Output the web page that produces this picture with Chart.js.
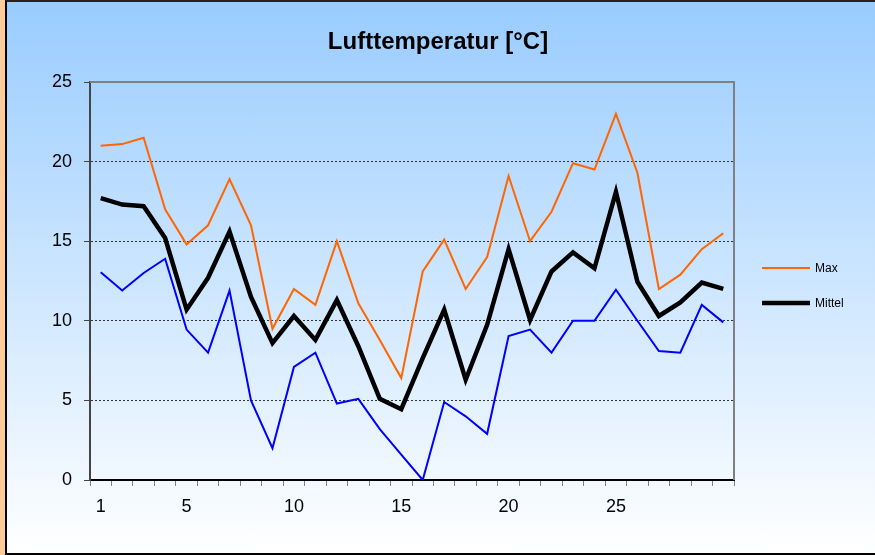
<!DOCTYPE html>
<html lang="de">
<head>
  <meta charset="UTF-8">
  <title>Lufttemperatur</title>
  <script src="https://cdn.jsdelivr.net/npm/chart.js"></script>
  <style>
    body {
      margin: 0;
      padding: 0;
      width: 875px;
      height: 555px;
      overflow: hidden;
      background-color: #FFCC99;
      position: relative;
    }
    #frame {
      position: absolute;
      left: 5px;
      top: 0;
      width: 900px;
      height: 551px;
      border: 2px solid #000;
      border-top-color: #2b2118;
      background: linear-gradient(#99CCFF, #FFFFFF);
    }
    canvas {
      position: absolute;
      left: 0;
      top: 0;
    }
  </style>
</head>
<body>
  <div id="frame"></div>
  <canvas id="tempChart" width="875" height="555"></canvas>

  <script>
    // Tage 1..30
    const days = ['1','2','3','4','5','6','7','8','9','10','11','12','13','14','15',
                  '16','17','18','19','20','21','22','23','24','25','26','27','28','29','30'];
    const shownDays = ['1', '5', '10', '15', '20', '25'];

    const maxTemp = [21.0, 21.1, 21.5, 17.0, 14.8, 16.0, 18.9, 16.0, 9.5, 12.0,
                     11.0, 15.0, 11.1, 8.8, 6.4, 13.1, 15.1, 12.0, 14.0, 19.1,
                     15.0, 16.85, 19.9, 19.5, 23.0, 19.3, 12.0, 12.9, 14.5, 15.5];
    const meanTemp = [17.7, 17.3, 17.2, 15.2, 10.7, 12.7, 15.6, 11.5, 8.6, 10.3,
                      8.8, 11.3, 8.4, 5.1, 4.45, 7.65, 10.7, 6.3, 9.75, 14.5,
                      10.05, 13.1, 14.3, 13.3, 18.1, 12.45, 10.3, 11.15, 12.4, 12.0];
    const minTemp = [13.05, 11.9, 13.0, 13.9, 9.45, 8.0, 11.9, 5.0, 2.0, 7.1,
                     8.0, 4.8, 5.1, 3.2, 1.6, 0.0, 4.9, 4.0, 2.9, 9.05,
                     9.45, 8.0, 10.0, 10.0, 11.95, 10.0, 8.1, 8.0, 11.0, 9.9];

    const fontFamily = '"Liberation Sans", Arial, sans-serif';

    // Titel, Rahmen oben/rechts und Legende selbst zeichnen
    const decorations = {
      id: 'decorations',
      afterDraw(chart) {
        const ctx = chart.ctx;
        const area = chart.chartArea;
        ctx.save();

        // grauer Rahmen oben und rechts
        ctx.strokeStyle = '#808080';
        ctx.lineWidth = 2;
        ctx.beginPath();
        ctx.moveTo(area.left, area.top);
        ctx.lineTo(area.right, area.top);
        ctx.lineTo(area.right, area.bottom);
        ctx.stroke();

        // Titel
        ctx.fillStyle = '#000';
        ctx.font = 'bold 24px ' + fontFamily;
        ctx.textAlign = 'center';
        ctx.textBaseline = 'middle';
        ctx.fillText('Lufttemperatur [°C]', 438, 42);

        // Legende (nur Max und Mittel)
        const entries = [
          { ds: chart.data.datasets[0], y: 268 },
          { ds: chart.data.datasets[2], y: 303 }
        ];
        ctx.font = '12px ' + fontFamily;
        ctx.textAlign = 'left';
        entries.forEach(e => {
          ctx.strokeStyle = e.ds.borderColor;
          ctx.lineWidth = e.ds.borderWidth;
          ctx.beginPath();
          ctx.moveTo(762, e.y);
          ctx.lineTo(810, e.y);
          ctx.stroke();
          ctx.fillStyle = '#000';
          ctx.fillText(e.ds.label, 815, e.y + 1);
        });

        ctx.restore();
      }
    };

    const ctx = document.getElementById('tempChart').getContext('2d');
    const chart = new Chart(ctx, {
      type: 'line',
      data: {
        labels: days,
        datasets: [
          { label: 'Max', data: maxTemp, borderColor: '#FF6600', borderWidth: 2 },
          { label: 'Min', data: minTemp, borderColor: '#0000FF', borderWidth: 2 },
          { label: 'Mittel', data: meanTemp, borderColor: '#000000', borderWidth: 4.5 }
        ]
      },
      options: {
        responsive: false,
        animation: false,
        elements: {
          point: { radius: 0 },
          line: { tension: 0, fill: false, borderCapStyle: 'butt', borderJoinStyle: 'miter' }
        },
        layout: { padding: { left: 0, right: 141, top: 82, bottom: 0 } },
        plugins: {
          legend: { display: false },
          title: { display: false },
          tooltip: { enabled: false }
        },
        scales: {
          x: {
            offset: true,
            afterFit(scale) { scale.height = 75; },
            grid: {
              offset: true,
              drawOnChartArea: false,
              tickLength: 6,
              tickColor: '#808080',
              lineWidth: 1
            },
            border: { display: true, color: '#000', width: 2 },
            ticks: {
              autoSkip: false,
              maxRotation: 0,
              padding: 10,
              color: '#000',
              font: { family: fontFamily, size: 18 },
              callback(value) {
                const lbl = this.getLabelForValue(value);
                return shownDays.includes(lbl) ? lbl : '';
              }
            }
          },
          y: {
            min: 0,
            max: 25,
            afterFit(scale) { scale.width = 90; },
            grid: {
              color(c) {
                const v = c.tick ? c.tick.value : null;
                return (v === 0 || v === 25) ? 'rgba(0,0,0,0)' : '#333';
              },
              tickBorderDash: [1, 0],
              tickColor: '#444',
              tickLength: 6,
              lineWidth: 1
            },
            border: { display: true, color: '#444', width: 2, dash: [2, 2] },
            ticks: {
              stepSize: 5,
              padding: 12,
              color: '#000',
              font: { family: fontFamily, size: 18 }
            }
          }
        }
      },
      plugins: [decorations]
    });
  </script>
</body>
</html>
